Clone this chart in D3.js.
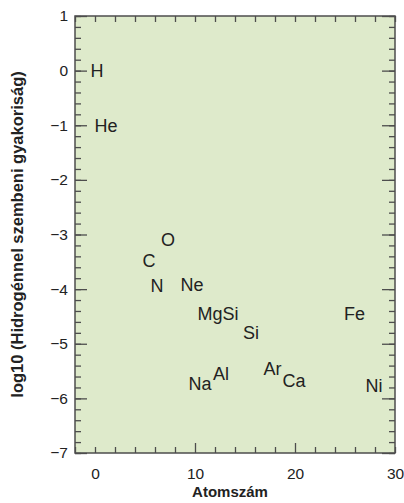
<!DOCTYPE html>
<html>
<head>
<meta charset="utf-8">
<script src="https://cdn.jsdelivr.net/npm/d3@7"></script>
<style>
  body { margin: 0; background: #fff; }
  text { font-family: "Liberation Sans", Arial, Helvetica, sans-serif; fill: #222; }
</style>
</head>
<body>
<div id="chart"></div>
<script>
let w = 404,
    h = 503;

let margin = { top: 16, right: 9, bottom: 50, left: 75 };

// element labels: label text, position along atom number, log10 abundance
let elements = ["H", "He", "C", "N", "O", "Ne", "MgSi", "Si", "Na", "Al", "Ar", "Ca", "Fe", "Ni"];
let atomNumber = [0.2, 1.1, 5.4, 6.2, 7.3, 9.7, 12.3, 15.6, 10.5, 12.6, 17.75, 19.9, 25.95, 27.9];
let logAbundance = [0.0, -1.01, -3.47, -3.94, -3.1, -3.92, -4.44, -4.8, -5.72, -5.54, -5.46, -5.67, -4.45, -5.76];

// axis ticks
let xTicks = [0, 10, 20, 30];
let xMinor = d3.range(-2, 31, 2);
let xLongBottom = [10, 20];
let yTicks = [1, 0, -1, -2, -3, -4, -5, -6, -7];
let yMinor = d3.range(-35, 6).map(d => d / 5);

let xTitle = "Atomszám";
let yTitle = "log10 (Hidrogénnel szembeni gyakoriság)";

let width = w - margin.left - margin.right;
let height = h - margin.top - margin.bottom;

let svg = d3.select("#chart")
            .append("svg")
            .attr("width", w)
            .attr("height", h);

let g = svg.append("g")
           .attr("transform", "translate(" + margin.left + "," + margin.top + ")");

let x = d3.scaleLinear().domain([-2, 30]).range([0, width]);
let y = d3.scaleLinear().domain([-7, 1]).range([height, 0]);

// plot background
g.append("rect")
 .attr("width", width)
 .attr("height", height)
 .attr("fill", "#deeacb");

let axisColor = "#4d4d4d";

function styleAxis(sel) {
  sel.select(".domain").remove();
  sel.selectAll(".tick line").attr("stroke", axisColor).attr("stroke-width", 1.3);
  sel.selectAll(".tick text").style("font-size", "15.5px").attr("fill", "#222");
}

// minor ticks, all four sides, pointing inward
g.append("g").attr("transform", "translate(0," + height + ")")
 .call(d3.axisBottom(x).tickValues(xMinor.filter(d => xLongBottom.indexOf(d) < 0)).tickSize(-6).tickFormat(""))
 .call(styleAxis);
g.append("g").attr("transform", "translate(0," + height + ")")
 .call(d3.axisBottom(x).tickValues(xLongBottom).tickSize(-10).tickFormat(""))
 .call(styleAxis);
g.append("g")
 .call(d3.axisTop(x).tickValues(xMinor).tickSize(-6).tickFormat(""))
 .call(styleAxis);
g.append("g")
 .call(d3.axisLeft(y).tickValues(yMinor).tickSize(-6).tickFormat(""))
 .call(styleAxis);
g.append("g").attr("transform", "translate(" + width + ",0)")
 .call(d3.axisRight(y).tickValues(yMinor).tickSize(-6).tickFormat(""))
 .call(styleAxis);
g.append("g").attr("transform", "translate(" + width + ",0)")
 .call(d3.axisRight(y).tickValues(yTicks).tickSize(-13).tickFormat(""))
 .call(styleAxis);

// labelled axes
g.append("g")
 .call(d3.axisLeft(y).tickValues(yTicks).tickSize(-12).tickPadding(7).tickFormat(d3.format("d")))
 .call(styleAxis);
g.append("g").attr("transform", "translate(0," + height + ")")
 .call(d3.axisBottom(x).tickValues(xTicks).tickSize(0).tickPadding(15).tickFormat(d3.format("d")))
 .call(styleAxis);

// frame
g.append("rect")
 .attr("width", width)
 .attr("height", height)
 .attr("fill", "none")
 .attr("stroke", axisColor)
 .attr("stroke-width", 1.5);

// element labels
g.selectAll(".element")
 .data(elements)
 .enter()
 .append("text")
 .attr("class", "element")
 .attr("x", (d, i) => x(atomNumber[i]))
 .attr("y", (d, i) => y(logAbundance[i]))
 .attr("dy", "0.36em")
 .attr("text-anchor", "middle")
 .style("font-size", "18px")
 .text(d => d);

// axis titles
svg.append("text")
   .attr("x", 230)
   .attr("y", 497)
   .attr("text-anchor", "middle")
   .style("font-size", "15px")
   .style("font-weight", "bold")
   .text(xTitle);

svg.append("text")
   .attr("transform", "translate(23," + (margin.top + height / 2) + ") rotate(-90)")
   .attr("text-anchor", "middle")
   .style("font-size", "16.5px")
   .style("font-weight", "bold")
   .text(yTitle);
</script>
</body>
</html>
